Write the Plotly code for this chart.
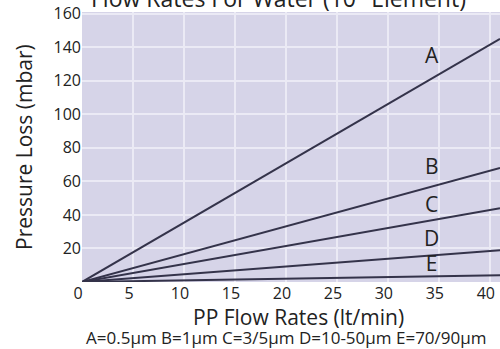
import plotly.graph_objs as go

# caudal PP (lt/min) y pérdida de carga (mbar) por grado de filtración
flow_lpm = [0, 10, 20, 30, 41]
loss_a = [0, 35.4, 70.7, 106.1, 145]
loss_b = [0, 16.6, 33.2, 49.8, 68]
loss_c = [0, 10.7, 21.5, 32.2, 44]
loss_d = [0, 4.6, 9.3, 13.9, 19]
loss_e = [0, 1, 1.9, 2.9, 4]

curve_names = ['A', 'B', 'C', 'D', 'E']
label_x = 34.3
label_y = [133.6, 67.4, 44.7, 24.4, 9.5]

title_txt = 'Flow Rates For Water (10" Element)'
x_title = 'PP Flow Rates (lt/min)'
y_title = 'Pressure Loss (mbar)'
legend_txt = 'A=0.5μm B=1μm C=3/5μm D=10-50μm E=70/90μm'

FONT = 'Open Sans'
LINE = '#34334a'

fig = go.Figure()
for name, ys in zip(curve_names, [loss_a, loss_b, loss_c, loss_d, loss_e]):
    fig.add_trace(go.Scatter(
        x=flow_lpm, y=ys, mode='lines', name=name,
        line=dict(color=LINE, width=2), showlegend=False
    ))

fig.add_trace(go.Scatter(
    x=[label_x] * len(curve_names), y=label_y, mode='text',
    text=curve_names, textfont=dict(family=FONT, size=21, color='#222'),
    showlegend=False, hoverinfo='skip'
))

fig.update_layout(
    width=500, height=349,
    margin=dict(l=82, r=0, t=12, b=67),
    paper_bgcolor='white',
    plot_bgcolor='#d6d4e8',
    font=dict(family=FONT, size=16, color='#222'),
    xaxis=dict(
        range=[0, 41], tickvals=[0, 5, 10, 15, 20, 25, 30, 35, 40],
        showgrid=True, gridcolor='#ebeaf5', gridwidth=2,
        zeroline=False, showline=False, ticks='', automargin=False,
        ticklabelshift=-4, tickfont=dict(size=16)
    ),
    yaxis=dict(
        range=[0, 161], tickvals=[20, 40, 60, 80, 100, 120, 140, 160],
        showgrid=True, gridcolor='#ebeaf5', gridwidth=2,
        zeroline=False, showline=False, ticks='', automargin=False,
        tickfont=dict(size=16)
    ),
    annotations=[
        dict(text=title_txt, xref='paper', yref='paper', x=0.469, y=1,
             xanchor='center', yanchor='bottom', yshift=-4, showarrow=False,
             font=dict(size=23)),
        dict(text=x_title, xref='paper', yref='paper', x=0.517, y=0,
             xanchor='center', yanchor='middle', yshift=-35, showarrow=False,
             font=dict(size=21)),
        dict(text=legend_txt, xref='paper', yref='paper', x=0.49, y=0,
             xanchor='center', yanchor='middle', yshift=-55, showarrow=False,
             font=dict(size=17)),
        dict(text=y_title, xref='paper', yref='paper', x=0, y=0.5,
             xanchor='center', yanchor='middle', xshift=-58, showarrow=False,
             textangle=-90, font=dict(size=21)),
    ],
)

fig.write_html("out.html", config={'displayModeBar': False},
               post_script="document.body.style.margin='0';")
